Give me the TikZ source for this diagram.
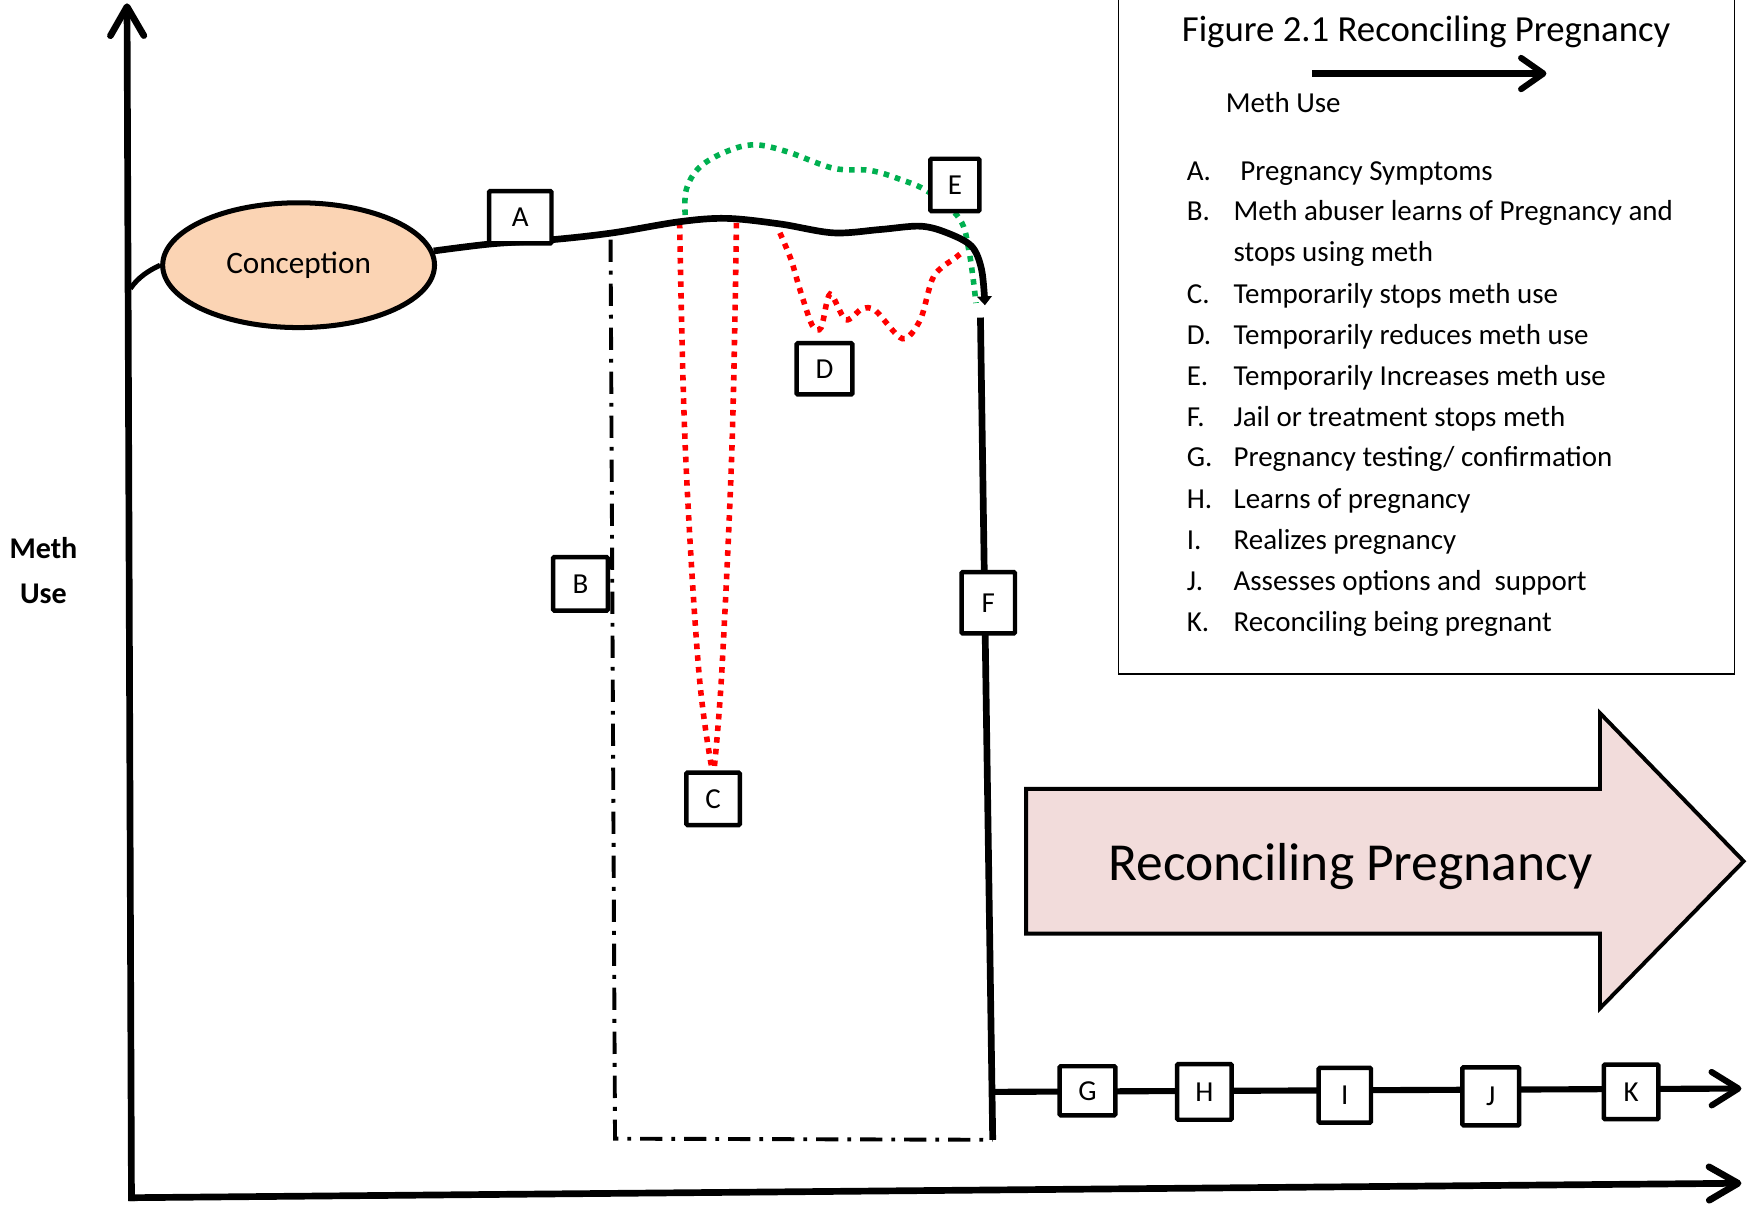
\documentclass[tikz,border=0pt]{standalone}
\usepackage{fontspec}
\setmainfont{Carlito}
\usetikzlibrary{arrows.meta,shapes.geometric}
\definecolor{peach}{HTML}{FBD4B4}
\definecolor{pinkfill}{HTML}{F2DCDB}
\definecolor{dotgreen}{HTML}{00B050}
\definecolor{dotred}{HTML}{FF0000}
\begin{document}
\begin{tikzpicture}[x=1pt,y=-1pt,
  sqbox/.style={draw=black, line width=4pt, fill=white, inner sep=0pt, rounded corners=1pt,
    font=\fontsize{26}{30}\selectfont},
  axisline/.style={line width=6pt, -{Straight Barb[length=26pt,width=30pt,line cap=round,line join=round]}},
  thickline/.style={line width=6pt},
  dotline/.style={line width=5pt, dash pattern=on 5pt off 5.5pt},
  dashdotline/.style={line width=3.5pt, dash pattern=on 20pt off 8pt on 3.5pt off 8pt},
  legendtext/.style={anchor=base west, font=\fontsize{26}{30}\selectfont, inner sep=0pt},
]
\useasboundingbox (0,0) rectangle (1568,1083);

% coordinates
\coordinate (ybot) at (118,1078);
\coordinate (ytop) at (114,3);
\coordinate (xl) at (116,1075);
\coordinate (xr) at (1563,1062);
\coordinate (yjoin) at (117,259);
\coordinate (fTop) at (880,285);
\coordinate (fBot) at (891,1023);
\coordinate (fJoin) at (890,980);
\coordinate (tlEnd) at (1563,977);
\coordinate (bTop) at (548,215);
\coordinate (bCorner) at (552,1022);

% axes
\draw[axisline] (ybot) -- (ytop);
\draw[axisline] (xl) -- (xr);

% conception
\node[ellipse, draw=black, line width=4.5pt, fill=peach, minimum width=244pt, minimum height=112pt,
  font=\fontsize{28}{33}\selectfont] (conc) at (268,238) {Conception};
\draw[line width=4.5pt] (yjoin) .. controls (124,249) and (133,243) .. (conc.west);

% dash-dot B path
\draw[dashdotline] (bTop) -- (bCorner) -- (fBot);

% red dotted C
\draw[dotline, dotred] plot[smooth, tension=0.6] coordinates {(610,200) (615,400) (627,600) (639,690)};
\draw[dotline, dotred] plot[smooth, tension=0.6] coordinates {(661,200) (657,400) (648,600) (641,690)};
% red dotted D
\draw[dotline, dotred] plot[smooth, tension=0.5] coordinates {(700,209) (710,233) (718,260) (729,292) (737,294) (745,264) (759,287) (774,277) (786,279) (810,304) (826,287) (838,248) (858,231) (863,227)};
% green dotted E
\draw[dotline, dotgreen] plot[smooth, tension=0.6] coordinates {(615,193) (616,170) (628,150) (652,136) (677,130) (706,136) (748,151) (781,153) (808,161) (833,172) (861,196) (870,227) (876,272)};

% main curve
\draw[thickline, -{Triangle[length=8pt,width=13pt]}] plot[smooth, tension=0.55] coordinates {(conc.6) (440,219) (497,215) (550,209) (610,199) (652,196) (700,201) (748,209) (790,206) (826,203) (850,209) (872,221) (881,242) (884,274)};

% F line and timeline
\draw[thickline] (fTop) -- (fBot);
\draw[line width=5.5pt, -{Straight Barb[length=24pt,width=30pt,line cap=round,line join=round]}] (fJoin) -- (tlEnd);

% boxes
\node[sqbox, minimum width=56pt, minimum height=47pt] (A) at (467,195) {A};
\node[sqbox, minimum width=49pt, minimum height=48pt] (B) at (521,524) {B};
\node[sqbox, minimum width=48pt, minimum height=47pt] (C) at (640,717) {C};
\node[sqbox, minimum width=50pt, minimum height=46pt] (D) at (740,331) {D};
\node[sqbox, minimum width=44pt, minimum height=47pt] (E) at (857,166) {E};
\node[sqbox, minimum width=48pt, minimum height=55pt] (F) at (887,541) {F};
\node[sqbox, minimum width=50pt, minimum height=44pt] (G) at (976,979) {G};
\node[sqbox, minimum width=49pt, minimum height=50pt] (H) at (1081,980) {H};
\node[sqbox, minimum width=47pt, minimum height=49pt] (I) at (1207,983) {I};
\node[sqbox, minimum width=51pt, minimum height=52pt] (J) at (1338,984) {J};
\node[sqbox, minimum width=49pt, minimum height=49pt] (K) at (1464,980) {K};

% y label
\node[align=center, font=\bfseries\fontsize{27}{40}\selectfont, inner sep=0pt] (ylab) at (39,512) {Meth\\Use};

% big arrow
\draw[line width=3.5pt, fill=pinkfill, line join=miter] (921,708) -- (1436,708) -- (1436,640) -- (1565,773) -- (1436,905) -- (1436,838) -- (921,838) -- cycle;
\node[font=\fontsize{48}{56}\selectfont, inner sep=0pt] (rp) at (1212,778) {Reconciling Pregnancy};

% legend
\node[draw=black, line width=1.5pt, anchor=north west, minimum width=553pt, minimum height=614pt, inner sep=0pt] (legend) at (1003,-10) {};
\node[anchor=base, font=\fontsize{33}{38}\selectfont, inner sep=0pt] (title) at (1280,37) {Figure 2.1 Reconciling Pregnancy};
\coordinate (lgA) at (1178,66);
\coordinate (lgB) at (1388,66);
\draw[line width=5.5pt, -{Straight Barb[length=20pt,width=28pt,line cap=round,line join=round]}] (lgA) -- (lgB);
\node[legendtext] (mu) at (1100,101) {Meth Use};

\node[legendtext] (lA) at (1065,162) {A.};
\node[legendtext] (tA) at (1113,162) {Pregnancy Symptoms};
\node[legendtext] (lB) at (1065,198) {B.};
\node[legendtext] (tB) at (1107,198) {Meth abuser learns of Pregnancy and};
\node[legendtext] (tB2) at (1107,235) {stops using meth};
\node[legendtext] (lC) at (1065,272) {C.};
\node[legendtext] (tC) at (1107,272) {Temporarily stops meth use};
\node[legendtext] (lD) at (1065,309) {D.};
\node[legendtext] (tD) at (1107,309) {Temporarily reduces meth use};
\node[legendtext] (lE) at (1065,346) {E.};
\node[legendtext] (tE) at (1107,346) {Temporarily Increases meth use};
\node[legendtext] (lF) at (1065,383) {F.};
\node[legendtext] (tF) at (1107,383) {Jail or treatment stops meth};
\node[legendtext] (lG) at (1065,419) {G.};
\node[legendtext] (tG) at (1107,419) {Pregnancy testing/ confirmation};
\node[legendtext] (lH) at (1065,456) {H.};
\node[legendtext] (tH) at (1107,456) {Learns of pregnancy};
\node[legendtext] (lI) at (1065,493) {I.};
\node[legendtext] (tI) at (1107,493) {Realizes pregnancy};
\node[legendtext] (lJ) at (1065,530) {J.};
\node[legendtext] (tJ) at (1107,530) {Assesses options and\ \ support};
\node[legendtext] (lK) at (1065,567) {K.};
\node[legendtext] (tK) at (1107,567) {Reconciling being pregnant};
\end{tikzpicture}
\end{document}
